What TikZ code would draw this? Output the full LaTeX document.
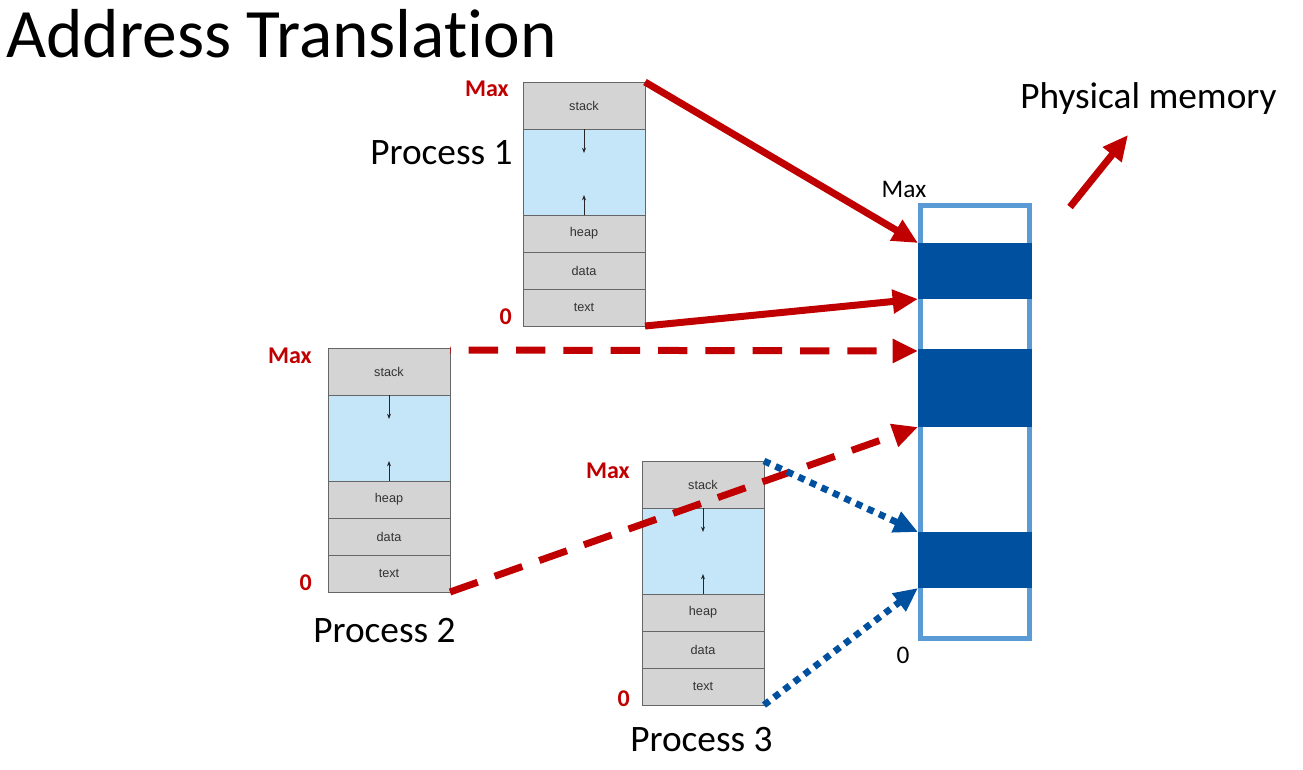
\documentclass[tikz,border=0pt]{standalone}
\usepackage{fontspec}
\setmainfont[Ligatures=NoCommon]{Carlito}
\newfontfamily\arialfont{Liberation Sans}
\usetikzlibrary{arrows.meta}
\definecolor{myred}{HTML}{C00000}
\definecolor{blkblue}{HTML}{0050A0}
\definecolor{memblue}{HTML}{5B9BD5}
\definecolor{secgray}{HTML}{D4D4D4}
\definecolor{freeblue}{HTML}{C5E6F8}
\tikzset{
  sec/.style={draw=black!60, line width=0.6pt, fill=secgray, minimum width=91.5pt, inner sep=0pt, outer sep=0pt, font=\arialfont\fontsize{9.5}{10}\selectfont, text=black!80},
  freesec/.style={sec, fill=freeblue},
  growarrow/.style={-{Stealth[length=4pt,width=3pt]}, line width=0.6pt, black!85},
  blk/.style={fill=blkblue, minimum width=85.5pt, inner sep=0pt, outer sep=0pt},
  redlbl/.style={text=myred, font=\bfseries\fontsize{18}{20}\selectfont, inner sep=0pt},
  proclbl/.style={font=\fontsize{28}{32}\selectfont, inner sep=0pt},
  redarrow/.style={draw=myred, line width=5.25pt, -{Triangle[length=19pt,width=17pt]}},
  bluearrow/.style={draw=blkblue, line width=5pt, dash pattern=on 5pt off 4.5pt, -{Triangle[length=18pt,width=16pt]}},
  reddash/.style={dash pattern=on 22pt off 13.5pt},
}
\newcommand\membox[3]{%
  \node[sec, minimum height=35.25pt, anchor=north west] (#1s) at (#2,#3) {stack};
  \node[freesec, minimum height=64.5pt, anchor=north] (#1f) at (#1s.south) {};
  \node[sec, minimum height=27.75pt, anchor=north] (#1h) at (#1f.south) {heap};
  \node[sec, minimum height=27.75pt, anchor=north] (#1d) at (#1h.south) {data};
  \node[sec, minimum height=27.75pt, anchor=north] (#1t) at (#1d.south) {text};
  \draw[growarrow] (#1f.north) -- ++(0,24);
  \draw[growarrow] (#1f.south) -- ++(0,-20);
}
\begin{document}
\begin{tikzpicture}[x=0.75pt,y=-0.75pt]
\useasboundingbox (0,0) rectangle (1303,769);
% title
\node[anchor=base west, inner sep=0pt, font=\fontsize{52}{58}\selectfont] (title) at (6,57) {Address Translation};
% process boxes
\membox{p1}{523}{82}
\membox{p2}{328}{348}
\membox{p3}{642}{461}
% labels
\node[redlbl, anchor=base east] (p1max) at (509,96) {Max};
\node[redlbl, anchor=base east] (p1zero) at (512,324) {0};
\node[redlbl, anchor=base east] (p2max) at (312,363) {Max};
\node[redlbl, anchor=base east] (p2zero) at (312,590) {0};
\node[redlbl, anchor=base east] (p3max) at (630,478) {Max};
\node[redlbl, anchor=base east] (p3zero) at (630,706) {0};
\node[proclbl, anchor=base west] (l1) at (370,164) {Process 1};
\node[proclbl, anchor=base west] (l2) at (313,642) {Process 2};
\node[proclbl, anchor=base west] (l3) at (630,751) {Process 3};
% physical memory
\node[draw=memblue, line width=3.75pt, minimum width=81.75pt, minimum height=324.75pt, inner sep=0pt, outer sep=0pt, anchor=north west] (pm) at (920.5,205.5) {};
\node[blk, minimum height=42pt, anchor=north west] (b1) at (918,243) {};
\node[blk, minimum height=58.5pt, anchor=north west] (b2) at (918,349) {};
\node[blk, minimum height=42pt, anchor=north west] (b3) at (918,532) {};
\node[anchor=base, inner sep=0pt, font=\fontsize{19}{22}\selectfont] (pmmax) at (904,197) {Max};
\node[anchor=base, inner sep=0pt, font=\fontsize{19}{22}\selectfont] (pmzero) at (903,663) {0};
\node[proclbl, anchor=base west] (pmlbl) at (1020,108) {Physical memory};
\coordinate (pa) at (1070,207);
\coordinate (pb) at (1128,135);
% connectors
\draw[redarrow] (p1s.north east) -- (b1.north west);
\draw[redarrow] (p1t.south east) -- (b1.south west);
\draw[redarrow, reddash, dash phase=21.5pt] ([yshift=-1.5pt]p2s.north east) -- ([yshift=-1.5pt]b2.north west);
\draw[redarrow, reddash] (p2t.south east) -- (b2.south west);
\draw[bluearrow] (p3s.north east) -- (b3.north west);
\draw[bluearrow] (p3t.south east) -- (b3.south west);
\draw[redarrow] (pa) -- (pb);
\end{tikzpicture}
\end{document}
